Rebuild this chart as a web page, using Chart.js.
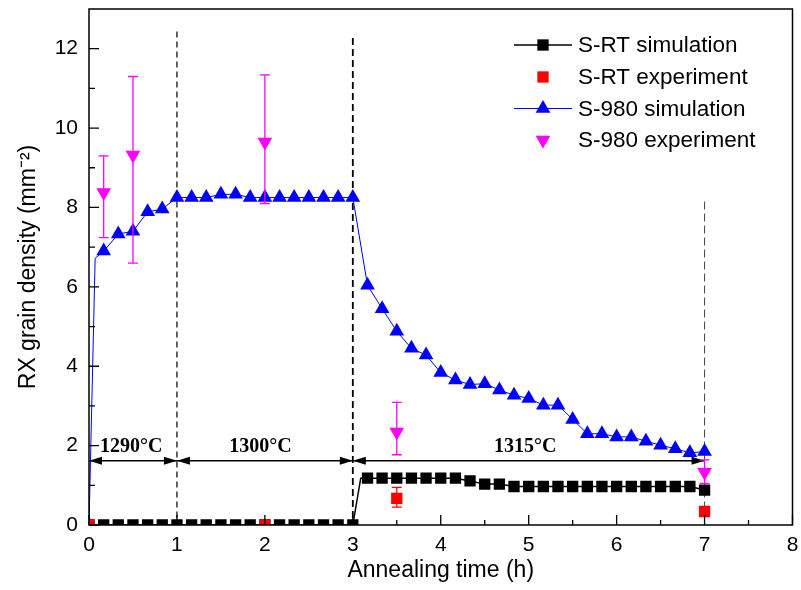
<!DOCTYPE html>
<html>
<head>
<meta charset="utf-8">
<script src="https://cdn.jsdelivr.net/npm/chart.js@4.4.0/dist/chart.umd.min.js"></script>
<style>
  html, body { margin: 0; padding: 0; background: #fff; }
  #wrap { width: 801px; height: 590px; }
</style>
</head>
<body>
<div id="wrap"><canvas id="chart"></canvas></div>
<script>
// S-RT simulation (h, mm^-2); 3.09 is a line point with no marker
const srtSimTime = [0, 0.167, 0.333, 0.5, 0.667, 0.833, 1, 1.167, 1.333, 1.5, 1.667, 1.833, 2, 2.167, 2.333, 2.5, 2.667, 2.833, 3,
  3.09, 3.167, 3.333, 3.5, 3.667, 3.833, 4, 4.167, 4.333, 4.5, 4.667, 4.833, 5, 5.167, 5.333, 5.5, 5.667, 5.833, 6, 6.167, 6.333, 6.5, 6.667, 6.833, 7];
const srtSimValue = [0, 0, 0, 0, 0, 0, 0, 0, 0, 0, 0, 0, 0, 0, 0, 0, 0, 0, 0,
  1.18, 1.18, 1.18, 1.18, 1.18, 1.18, 1.18, 1.18, 1.11, 1.03, 1.03, 0.97, 0.97, 0.97, 0.97, 0.97, 0.97, 0.97, 0.97, 0.97, 0.97, 0.97, 0.97, 0.97, 0.88];
const srtSimNoMarker = [3.09];

// S-RT experiment
const srtExpTime = [0, 2, 3.5, 7];
const srtExpValue = [0, 0, 0.67, 0.34];
const srtExpLow = [null, null, 0.45, null];
const srtExpHigh = [null, null, 0.95, null];

// S-980 simulation; 0.07 is a line point with no marker
const s980SimTime = [0, 0.07, 0.167, 0.333, 0.5, 0.667, 0.833, 1, 1.167, 1.333, 1.5, 1.667, 1.833, 2, 2.167, 2.333, 2.5, 2.667, 2.833, 3,
  3.167, 3.333, 3.5, 3.667, 3.833, 4, 4.167, 4.333, 4.5, 4.667, 4.833, 5, 5.167, 5.333, 5.5, 5.667, 5.833, 6, 6.167, 6.333, 6.5, 6.667, 6.833, 7];
const s980SimValue = [0, 6.72, 6.9, 7.33, 7.4, 7.89, 7.96, 8.25, 8.25, 8.25, 8.33, 8.33, 8.25, 8.25, 8.25, 8.25, 8.25, 8.25, 8.25, 8.25,
  6.04, 5.45, 4.88, 4.45, 4.28, 3.84, 3.65, 3.54, 3.56, 3.4, 3.27, 3.19, 3.02, 3.02, 2.66, 2.3, 2.3, 2.22, 2.22, 2.11, 2.01, 1.92, 1.82, 1.85];
const s980SimNoMarker = [0.07];

// S-980 experiment
const s980ExpTime = [0.167, 0.5, 2, 3.5, 7];
const s980ExpValue = [8.38, 9.32, 9.65, 2.34, 1.33];
const s980ExpLow = [7.24, 6.6, 8.1, 1.77, 1.05];
const s980ExpHigh = [9.3, 11.3, 11.34, 3.09, 1.64];

// annealing stages
const dividerTime = [1, 3, 7];
const dividerTop = [12.43, 12.27, 8.15];
const stageStart = [0, 1, 3];
const stageEnd = [1, 3, 7];
const stageLabel = ['1290°C', '1300°C', '1315°C'];
const stageLabelTime = [0.48, 1.95, 4.96];
const arrowLevel = 1.62;
const stageLabelLevel = 1.98;

const xTicks = [0, 1, 2, 3, 4, 5, 6, 7, 8];
const yTicks = [0, 2, 4, 6, 8, 10, 12];

const SANS = "'Liberation Sans', Arial, sans-serif";
const SERIF = "'Liberation Serif', 'Times New Roman', serif";

function pts(xs, ys) {
  return xs.map((t, i) => ({ x: t, y: ys[i] }));
}

function noPad(s) {
  s.paddingTop = 0; s.paddingBottom = 0; s.paddingLeft = 0; s.paddingRight = 0;
}

const dividerStyle = [
  { width: 1.2, color: '#000', dash: [6, 4] },
  { width: 1.8, color: '#000', dash: [7, 4] },
  { width: 1, color: '#444', dash: [8, 4] }
];

const decor = {
  id: 'decor',
  beforeDatasetsDraw(chart) {
    const { ctx } = chart;
    const x = chart.scales.x, y = chart.scales.y;
    ctx.save();
    dividerTime.forEach((t, i) => {
      const st = dividerStyle[i];
      const px = x.getPixelForValue(t);
      ctx.beginPath();
      ctx.setLineDash(st.dash);
      ctx.lineWidth = st.width;
      ctx.strokeStyle = st.color;
      ctx.moveTo(px, y.getPixelForValue(dividerTop[i]));
      ctx.lineTo(px, y.getPixelForValue(0));
      ctx.stroke();
    });
    ctx.setLineDash([]);

    // stage arrows
    const ay = y.getPixelForValue(arrowLevel);
    ctx.strokeStyle = '#000';
    ctx.fillStyle = '#000';
    ctx.lineWidth = 1.5;
    ctx.beginPath();
    ctx.moveTo(x.getPixelForValue(stageStart[0]), ay);
    ctx.lineTo(x.getPixelForValue(stageEnd[stageEnd.length - 1]), ay);
    ctx.stroke();
    const head = (tip, dir) => {
      ctx.beginPath();
      ctx.moveTo(tip, ay);
      ctx.lineTo(tip + dir * 13, ay - 4);
      ctx.lineTo(tip + dir * 13, ay + 4);
      ctx.closePath();
      ctx.fill();
    };
    stageStart.forEach((s, i) => {
      head(x.getPixelForValue(s), 1);
      head(x.getPixelForValue(stageEnd[i]), -1);
    });
    ctx.font = 'bold 20px ' + SERIF;
    ctx.textAlign = 'center';
    ctx.textBaseline = 'middle';
    stageLabel.forEach((lab, i) => {
      ctx.fillText(lab, x.getPixelForValue(stageLabelTime[i]), y.getPixelForValue(stageLabelLevel));
    });
    ctx.restore();
  },
  afterDatasetsDraw(chart) {
    const { ctx, chartArea } = chart;
    const x = chart.scales.x, y = chart.scales.y;
    ctx.save();
    // error bars
    const bars = (times, lows, highs, color) => {
      ctx.strokeStyle = color;
      ctx.lineWidth = 1.3;
      times.forEach((t, i) => {
        if (lows[i] == null) return;
        const px = x.getPixelForValue(t);
        const lo = y.getPixelForValue(lows[i]);
        const hi = y.getPixelForValue(highs[i]);
        ctx.beginPath();
        ctx.moveTo(px, lo); ctx.lineTo(px, hi);
        ctx.moveTo(px - 5, lo); ctx.lineTo(px + 5, lo);
        ctx.moveTo(px - 5, hi); ctx.lineTo(px + 5, hi);
        ctx.stroke();
      });
    };
    bars(srtExpTime, srtExpLow, srtExpHigh, '#ff0000');
    bars(s980ExpTime, s980ExpLow, s980ExpHigh, '#ff00ff');

    // frame
    ctx.strokeStyle = '#000';
    ctx.lineWidth = 1.5;
    ctx.strokeRect(chartArea.left, chartArea.top, chartArea.right - chartArea.left, chartArea.bottom - chartArea.top);

    // inward ticks
    ctx.lineWidth = 1.3;
    ctx.beginPath();
    for (let v = x.min; v <= x.max; v += 0.5) {
      const px = x.getPixelForValue(v);
      const len = Number.isInteger(v) ? 10 : 5;
      ctx.moveTo(px, chartArea.bottom);
      ctx.lineTo(px, chartArea.bottom - len);
    }
    for (let v = y.min; v < y.max; v += 1) {
      const py = y.getPixelForValue(v);
      const len = v % 2 === 0 ? 10 : 6;
      ctx.moveTo(chartArea.left, py);
      ctx.lineTo(chartArea.left + len, py);
    }
    ctx.stroke();

    // legend
    const rows = [45, 77, 108.5, 140];
    const lx0 = 514, lx1 = 572, mx = 543, tx = 578;
    chart.data.datasets.forEach((ds, i) => {
      const ry = rows[i];
      if (ds.showLine) {
        ctx.strokeStyle = ds.borderColor;
        ctx.lineWidth = ds.borderWidth;
        ctx.beginPath();
        ctx.moveTo(lx0, ry); ctx.lineTo(lx1, ry);
        ctx.stroke();
      }
      ctx.fillStyle = ds.backgroundColor;
      Chart.helpers.drawPoint(ctx, {
        pointStyle: ds.pointStyle,
        rotation: ds.pointRotation || 0,
        radius: ds.legendRadius,
        borderWidth: 0
      }, mx, ry);
      ctx.fillStyle = '#000';
      ctx.font = '22.5px ' + SANS;
      ctx.textAlign = 'left';
      ctx.textBaseline = 'middle';
      ctx.fillText(ds.label, tx, ry + 1);
    });
    ctx.restore();
  }
};

new Chart(document.getElementById('chart'), {
  type: 'scatter',
  data: {
    datasets: [
      {
        label: 'S-RT simulation',
        data: pts(srtSimTime, srtSimValue),
        showLine: true,
        borderColor: '#000000',
        backgroundColor: '#000000',
        borderWidth: 1.5,
        pointStyle: 'rect',
        pointRadius: (c) => srtSimNoMarker.includes(c.raw.x) ? 0 : 8,
        legendRadius: 8,
        pointBorderWidth: 0,
        clip: 0,
        order: 3
      },
      {
        label: 'S-RT experiment',
        data: pts(srtExpTime, srtExpValue),
        showLine: false,
        backgroundColor: '#ff0000',
        borderColor: '#ff0000',
        pointStyle: 'rect',
        pointRadius: 8,
        legendRadius: 8,
        pointBorderWidth: 0,
        clip: 0,
        order: 1
      },
      {
        label: 'S-980 simulation',
        data: pts(s980SimTime, s980SimValue),
        showLine: true,
        borderColor: '#0000ff',
        backgroundColor: '#0000ff',
        borderWidth: 1,
        pointStyle: 'triangle',
        pointRadius: (c) => s980SimNoMarker.includes(c.raw.x) ? 0 : 8.5,
        legendRadius: 8.5,
        pointBorderWidth: 0,
        clip: 0,
        order: 4
      },
      {
        label: 'S-980 experiment',
        data: pts(s980ExpTime, s980ExpValue),
        showLine: false,
        backgroundColor: '#ff00ff',
        borderColor: '#ff00ff',
        pointStyle: 'triangle',
        pointRotation: 180,
        rotation: 180,
        pointRadius: 8.5,
        legendRadius: 8.5,
        pointBorderWidth: 0,
        clip: 0,
        order: 2
      }
    ]
  },
  options: {
    responsive: true,
    maintainAspectRatio: false,
    animation: false,
    events: [],
    layout: { padding: { left: 0, right: 6, top: 9, bottom: 0 } },
    plugins: {
      legend: { display: false },
      tooltip: { enabled: false }
    },
    scales: {
      x: {
        type: 'linear',
        min: 0,
        max: 8,
        afterBuildTicks: (s) => { s.ticks = xTicks.map(v => ({ value: v })); },
        afterFit: (s) => { s.height = 65; noPad(s); },
        grid: { display: false, drawTicks: false },
        border: { display: false },
        ticks: { padding: 8, color: '#000', font: { family: SANS, size: 21 } },
        title: {
          display: true,
          text: 'Annealing time (h)',
          color: '#000',
          font: { family: SANS, size: 23 },
          padding: { top: 0, bottom: 6 }
        }
      },
      y: {
        type: 'linear',
        min: 0,
        max: 13,
        afterBuildTicks: (s) => { s.ticks = yTicks.map(v => ({ value: v })); },
        afterFit: (s) => { s.width = 89; noPad(s); },
        grid: { display: false, drawTicks: false },
        border: { display: false },
        ticks: { padding: 11, color: '#000', font: { family: SANS, size: 21 } },
        title: {
          display: true,
          text: 'RX grain density (mm⁻²)',
          color: '#000',
          font: { family: SANS, size: 23 },
          padding: { top: 15, bottom: 0 }
        }
      }
    }
  },
  plugins: [decor]
});
</script>
</body>
</html>
